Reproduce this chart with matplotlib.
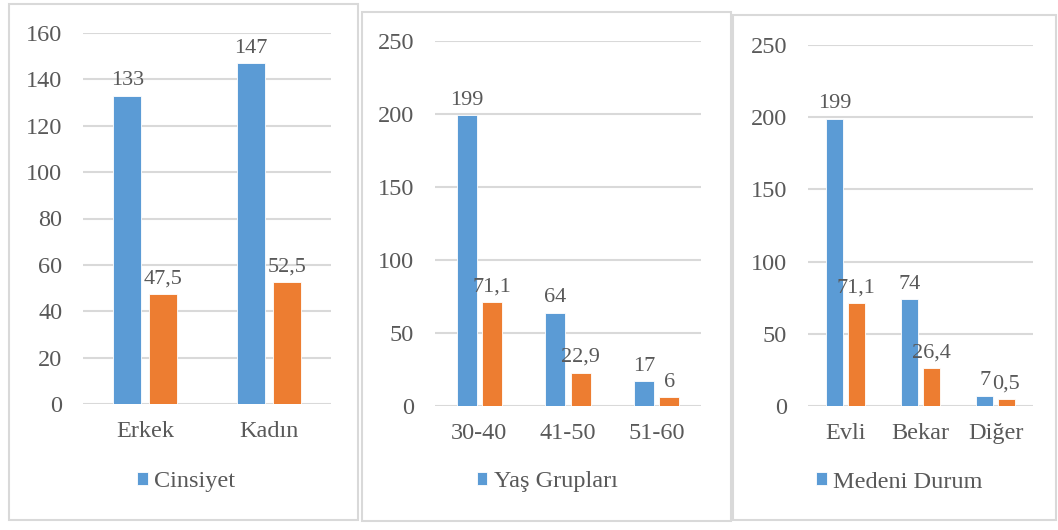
import matplotlib.pyplot as plt
import matplotlib.patches as patches
import numpy as np

plt.rcParams['font.family'] = ['Liberation Serif', 'DejaVu Serif']

# ---------------------------------------------------------------------------
# Data
# ---------------------------------------------------------------------------
gender_cats   = ["Erkek", "Kadın"]
gender_count  = [133, 147]
gender_pct    = [47.5, 52.5]
gender_pct_lb = ["47,5", "52,5"]

age_cats   = ["30-40", "41-50", "51-60"]
age_count  = [199, 64, 17]
age_pct    = [71.1, 22.9, 6]
age_pct_lb = ["71,1", "22,9", "6"]

mar_cats   = ["Evli", "Bekar", "Diğer"]
mar_count  = [199, 74, 7]
mar_pct    = [71.1, 26.4, 5]          # bar drawn at ~5 in the source
mar_pct_lb = ["71,1", "26,4", "0,5"]

legend_names = ["Cinsiyet", "Yaş Grupları", "Medeni Durum"]

# ---------------------------------------------------------------------------
# Style
# ---------------------------------------------------------------------------
BLUE, ORANGE = "#5B9BD5", "#ED7D31"
TXT, GRID = "#595959", "#D9D9D9"
FS = 17.5        # ticks / legend
FS_LBL = 16      # data labels
W, H = 1058, 530

fig = plt.figure(figsize=(W / 100, H / 100), dpi=100)


def px_box(x0, y0, x1, y1):
    """pixel box (top-left origin) -> figure fraction [l, b, w, h]"""
    return [x0 / W, 1 - y1 / H, (x1 - x0) / W, (y1 - y0) / H]


# panel borders
for x0, y0, x1, y1 in [(9, 4, 358, 520), (362, 12, 731, 521), (733, 15, 1056, 520)]:
    l, b, w, h = px_box(x0, y0, x1, y1)
    fig.add_artist(patches.Rectangle((l, b), w, h, transform=fig.transFigure,
                                     fill=False, edgecolor=GRID, linewidth=1.5))

panels = [
    (gender_cats, gender_count, gender_pct, gender_pct_lb, 160, 20,
     (83, 33, 331, 404), (186, 482)),
    (age_cats, age_count, age_pct, age_pct_lb, 250, 50,
     (435, 41, 701, 406), (547, 482)),
    (mar_cats, mar_count, mar_pct, mar_pct_lb, 250, 50,
     (808, 45, 1033, 406), (899, 482)),
]

bw, off = 0.225, 0.143
for i, (cats, cnt, pct, pct_lb, ymax, step, box, leg) in enumerate(panels):
    ax = fig.add_axes(px_box(*box))
    x = np.arange(len(cats))
    ax.bar(x - off, cnt, width=bw, color=BLUE, edgecolor="white", linewidth=0.6,
           label=legend_names[i], zorder=3)
    ax.bar(x + off, pct, width=bw, color=ORANGE, edgecolor="white", linewidth=0.6,
           label="_nolegend_", zorder=3)

    for xi, v in zip(x, cnt):
        ax.annotate(str(v), (xi - off, v), xytext=(0, 4), textcoords="offset points",
                    ha="center", va="bottom", fontsize=FS_LBL, color=TXT)
    for xi, v, lb in zip(x, pct, pct_lb):
        ax.annotate(lb, (xi + off, v), xytext=(0, 4), textcoords="offset points",
                    ha="center", va="bottom", fontsize=FS_LBL, color=TXT)

    ax.set_xlim(-0.5, len(cats) - 0.5)
    ax.set_ylim(0, ymax)
    ax.set_yticks(np.arange(0, ymax + 1, step))
    ax.set_xticks(x)
    ax.set_xticklabels(cats)
    ax.tick_params(axis="both", length=0, labelsize=FS, colors=TXT)
    ax.tick_params(axis="y", pad=15)
    ax.tick_params(axis="x", pad=12)
    ax.grid(axis="y", color=GRID, linewidth=1.5, zorder=0)
    for s in ax.spines.values():
        s.set_visible(False)

    ax.legend(loc="center", bbox_to_anchor=(leg[0] / W, 1 - leg[1] / H),
              bbox_transform=fig.transFigure, frameon=False, fontsize=FS,
              handlelength=0.45, handleheight=0.45, handletextpad=0.25,
              labelcolor=TXT)

fig.savefig("out.png", dpi=100)
